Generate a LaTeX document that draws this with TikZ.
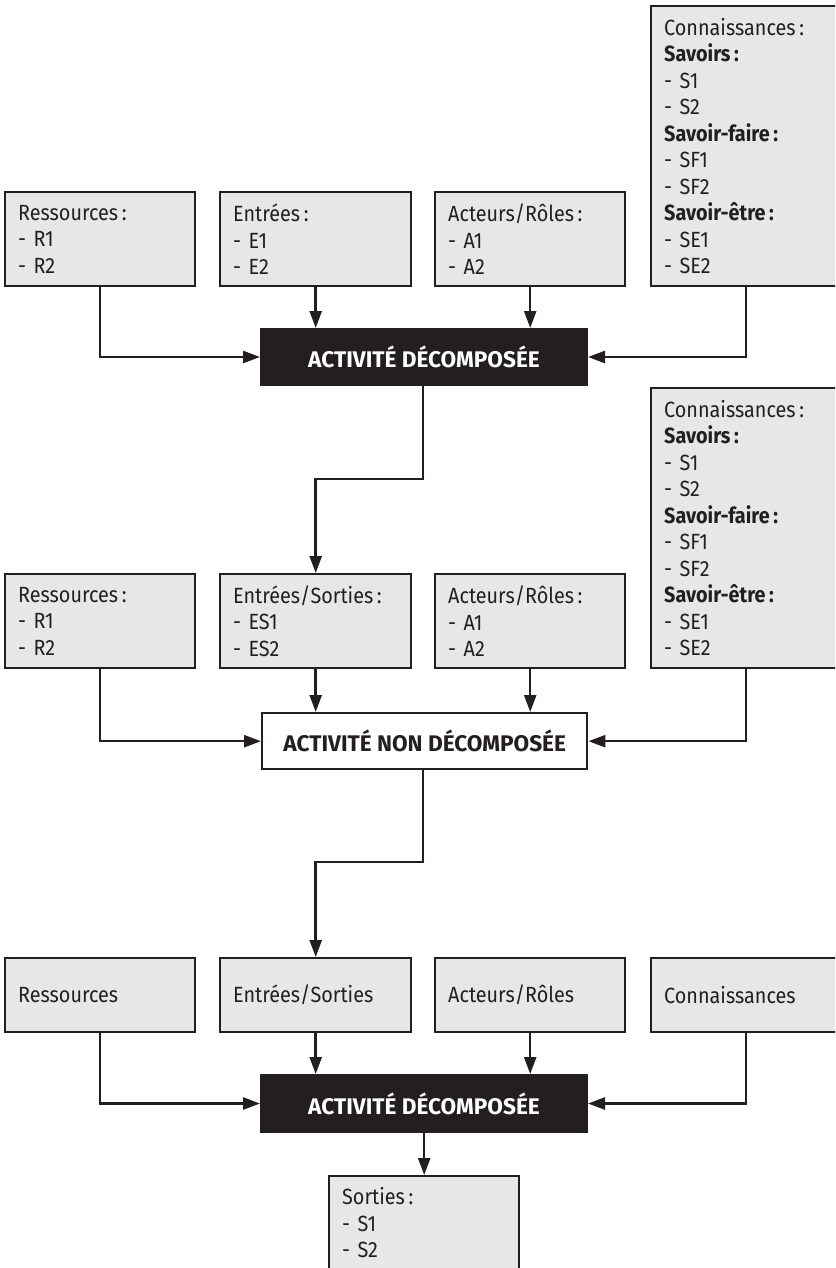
\documentclass[tikz,border=0pt]{standalone}
\usepackage{fontspec}
\setmainfont{Fira Sans}[FakeStretch=0.9]
\newfontfamily\headfont{Fira Sans}
\usetikzlibrary{arrows.meta}
\definecolor{ink}{HTML}{231F20}
\definecolor{boxgray}{HTML}{E6E7E8}
\begin{document}
\begin{tikzpicture}[x=1pt,y=-1pt,
  infobox/.style={draw=ink, fill=boxgray, line width=2.4pt, anchor=north west,
    inner xsep=13pt, inner ysep=0pt, align=left, text=ink,
    font=\fontsize{22}{26.5}\selectfont},
  darkact/.style={draw=ink, fill=ink, line width=1pt, anchor=north west,
    text=white, inner sep=0pt, font=\headfont\bfseries\fontsize{22.6}{24}\selectfont},
  plainact/.style={draw=ink, fill=white, line width=2.4pt, anchor=north west,
    text=ink, inner sep=0pt, font=\headfont\bfseries\fontsize{22.6}{24}\selectfont},
  flow/.style={draw=ink, line width=2.5pt, -{Triangle[length=17pt,width=12pt]}}]
\clip (0,0) rectangle (835,1268);
\fill[white] (0,0) rectangle (835,1268);

% ---------- first level ----------
\node[infobox, text width=164pt, minimum height=94pt] (r1) at (4,191)
  {Ressources\,:\\- R1\\- R2};
\node[infobox, text width=165pt, minimum height=94pt] (e1) at (219,191)
  {Entrées\,:\\- E1\\- E2};
\node[infobox, text width=164pt, minimum height=94pt] (a1) at (434,191)
  {Acteurs/Rôles\,:\\- A1\\- A2};
\node[infobox, text width=164pt, minimum height=280pt] (c1) at (650,5)
  {Connaissances\,:\\\textbf{Savoirs\,:}\\- S1\\- S2\\\textbf{Savoir-faire\,:}\\- SF1\\- SF2\\\textbf{Savoir-être\,:}\\- SE1\\- SE2};
\node[darkact, minimum width=327pt, minimum height=57pt] (d1) at (260,328)
  {ACTIVITÉ DÉCOMPOSÉE};

\draw[flow] (r1.south) |- (d1.west);
\draw[flow] (e1.south) -- (e1.south |- d1.north);
\draw[flow] (a1.south) -- (a1.south |- d1.north);
\draw[flow] (c1.south) |- (d1.east);

% ---------- second level ----------
\node[infobox, text width=164pt, minimum height=94pt] (r2) at (4,573)
  {Ressources\,:\\- R1\\- R2};
\node[infobox, text width=165pt, minimum height=94pt] (e2) at (219,573)
  {Entrées/Sorties\,:\\- ES1\\- ES2};
\node[infobox, text width=164pt, minimum height=94pt] (a2) at (434,573)
  {Acteurs/Rôles\,:\\- A1\\- A2};
\node[infobox, text width=164pt, minimum height=280pt] (c2) at (650,387)
  {Connaissances\,:\\\textbf{Savoirs\,:}\\- S1\\- S2\\\textbf{Savoir-faire\,:}\\- SF1\\- SF2\\\textbf{Savoir-être\,:}\\- SE1\\- SE2};
\node[plainact, minimum width=325pt, minimum height=56pt] (n2) at (261,712)
  {ACTIVITÉ NON DÉCOMPOSÉE};

\coordinate (k1) at (423,479);
\draw[flow] (d1.south -| k1) -- (k1) -| (e2.north);
\draw[flow] (r2.south) |- (n2.west);
\draw[flow] (e2.south) -- (e2.south |- n2.north);
\draw[flow] (a2.south) -- (a2.south |- n2.north);
\draw[flow] (c2.south) |- (n2.east);

% ---------- third level ----------
\node[infobox, text width=164pt, minimum height=74pt] (r3) at (4,957)
  {Ressources};
\node[infobox, text width=165pt, minimum height=74pt] (e3) at (219,957)
  {Entrées/Sorties};
\node[infobox, text width=164pt, minimum height=74pt] (a3) at (434,957)
  {Acteurs/Rôles};
\node[infobox, text width=164pt, minimum height=74pt] (c3) at (650,957)
  {Connaissances};
\node[darkact, minimum width=327pt, minimum height=58pt] (d3) at (260,1074)
  {ACTIVITÉ DÉCOMPOSÉE};
\node[infobox, text width=164pt, minimum height=93pt] (s3) at (328,1175)
  {Sorties\,:\\- S1\\- S2};

\coordinate (k2) at (423,862);
\draw[flow] (n2.south -| k2) -- (k2) -| (e3.north);
\draw[flow] (r3.south) |- (d3.west);
\draw[flow] (e3.south) -- (e3.south |- d3.north);
\draw[flow] (a3.south) -- (a3.south |- d3.north);
\draw[flow] (c3.south) |- (d3.east);
\draw[flow] (d3.south -| s3.north) -- (s3.north);
\end{tikzpicture}
\end{document}
